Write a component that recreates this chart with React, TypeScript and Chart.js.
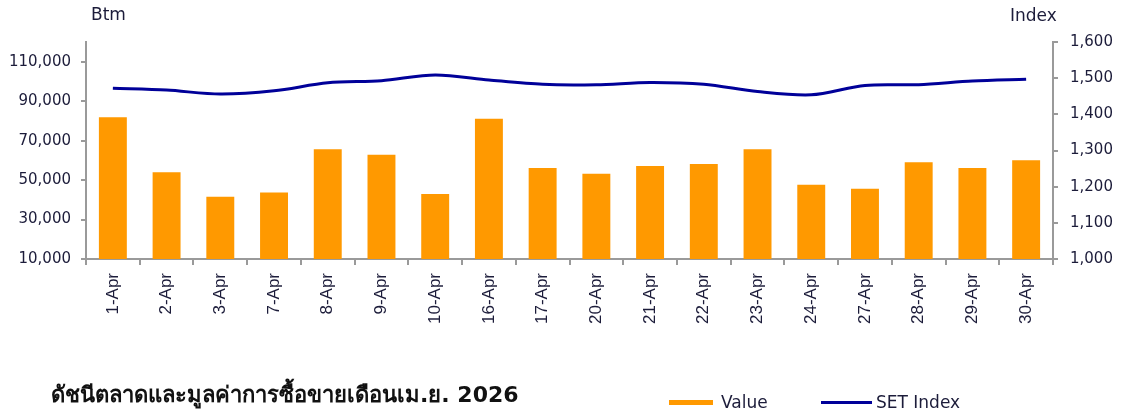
import React, { useEffect, useRef } from "react";
import { Chart, registerables } from "chart.js";

Chart.register(...registerables);

const categories = [
  "1-Apr", "2-Apr", "3-Apr", "7-Apr", "8-Apr", "9-Apr", "10-Apr", "16-Apr", "17-Apr",
  "20-Apr", "21-Apr", "22-Apr", "23-Apr", "24-Apr", "27-Apr", "28-Apr", "29-Apr", "30-Apr",
];
const tradingValue = [
  81900, 54000, 41600, 43700, 65600, 62800, 42900, 81100, 56100,
  53200, 57100, 58200, 65600, 47600, 45600, 59000, 56100, 60000,
];
const setIndex = [
  1472, 1467, 1456, 1465, 1487, 1493, 1509, 1495, 1483,
  1482, 1488, 1483, 1463, 1454, 1480, 1482, 1492, 1497,
];
const leftTicks = [10000, 30000, 50000, 70000, 90000, 110000];
const rightTicks = [1000, 1100, 1200, 1300, 1400, 1500, 1600];

const titleText = "ดัชนีตลาดและมูลค่าการซื้อขายเดือนเม.ย. 2026";
const leftUnit = "Btm";
const rightUnit = "Index";
const valueLabel = "Value";
const indexLabel = "SET Index";

const W = 1123;
const H = 412;
const TEXT = "#1c1c3a";
const AXIS = "#9a9a9a";
const ORANGE = "#FF9900";
const NAVY = "#000099";
const fmt = (v: number) => v.toLocaleString("en-US");

export default function App() {
  const ref = useRef<HTMLCanvasElement | null>(null);
  useEffect(() => {
    document.body.style.margin = "0";
    const canvas = ref.current;
    if (!canvas) return;
    const chart = new Chart(canvas, {
      type: "bar",
      data: {
        labels: categories,
        datasets: [
          {
            type: "line",
            label: indexLabel,
            data: setIndex,
            yAxisID: "y1",
            borderColor: NAVY,
            backgroundColor: NAVY,
            borderWidth: 3,
            pointRadius: 0,
            tension: 0.3,
            order: 0,
          } as any,
          {
            type: "bar",
            label: valueLabel,
            data: tradingValue,
            yAxisID: "y",
            backgroundColor: ORANGE,
            barPercentage: 0.52,
            categoryPercentage: 1,
            order: 1,
          } as any,
        ],
      },
      options: {
        responsive: false,
        animation: false,
        devicePixelRatio: 1,
        layout: { padding: { top: 42, left: 0, right: 0, bottom: 0 } },
        plugins: { legend: { display: false }, tooltip: { enabled: false } },
        scales: {
          x: {
            afterFit: (s: any) => { s.height = 153; },
            grid: { display: true, drawOnChartArea: false, drawTicks: true, tickLength: 6, color: AXIS, lineWidth: 2, offset: true },
            border: { display: true, color: AXIS, width: 2 },
            ticks: {
              autoSkip: false,
              minRotation: 90,
              maxRotation: 90,
              padding: 8,
              color: TEXT,
              font: { family: "'Liberation Sans', Arial, sans-serif", size: 17 },
            },
          },
          y: {
            position: "left",
            min: 10000,
            max: 120000,
            afterFit: (s: any) => { s.width = 86; },
            afterBuildTicks: (s: any) => { s.ticks = leftTicks.map((value) => ({ value })); },
            grid: { display: true, drawOnChartArea: false, drawTicks: true, tickLength: 5, color: AXIS, lineWidth: 2 },
            border: { display: true, color: AXIS, width: 2 },
            ticks: {
              padding: 10,
              color: TEXT,
              font: { family: "'DejaVu Sans', Tahoma, sans-serif", size: 15 },
              callback: (v: any) => fmt(Number(v)),
            },
          },
          y1: {
            position: "right",
            min: 1000,
            max: 1600,
            afterFit: (s: any) => { s.width = 70; },
            afterBuildTicks: (s: any) => { s.ticks = rightTicks.map((value) => ({ value })); },
            grid: { display: true, drawOnChartArea: false, drawTicks: true, tickLength: 5, color: AXIS, lineWidth: 2 },
            border: { display: true, color: AXIS, width: 2 },
            ticks: {
              padding: 12,
              color: TEXT,
              font: { family: "'DejaVu Sans', Tahoma, sans-serif", size: 15 },
              callback: (v: any) => fmt(Number(v)),
            },
          },
        },
      } as any,
    });
    return () => chart.destroy();
  }, []);

  const label: React.CSSProperties = {
    position: "absolute",
    fontFamily: "'DejaVu Sans', Tahoma, sans-serif",
    fontSize: 17,
    color: TEXT,
    whiteSpace: "nowrap",
    lineHeight: "1",
  };

  return (
    <div style={{ position: "relative", width: W, height: H, background: "#fff", overflow: "hidden" }}>
      <canvas ref={ref} width={W} height={H} style={{ position: "absolute", left: 0, top: 0, width: W, height: H }} />
      <div style={{ ...label, left: 91, top: 6 }}>{leftUnit}</div>
      <div style={{ ...label, left: 1010, top: 7 }}>{rightUnit}</div>
      <div
        style={{
          ...label,
          left: 51,
          top: 384,
          fontSize: 22,
          fontWeight: "bold",
          color: "#111",
          fontFamily: "'DejaVu Sans', 'Noto Sans', sans-serif",
        }}
      >
        {titleText}
      </div>
      <div style={{ position: "absolute", left: 669, top: 400, width: 44, height: 5, background: ORANGE }} />
      <div style={{ ...label, left: 721, top: 394 }}>{valueLabel}</div>
      <div style={{ position: "absolute", left: 821, top: 401, width: 51, height: 3, background: NAVY }} />
      <div style={{ ...label, left: 876, top: 394 }}>{indexLabel}</div>
    </div>
  );
}
